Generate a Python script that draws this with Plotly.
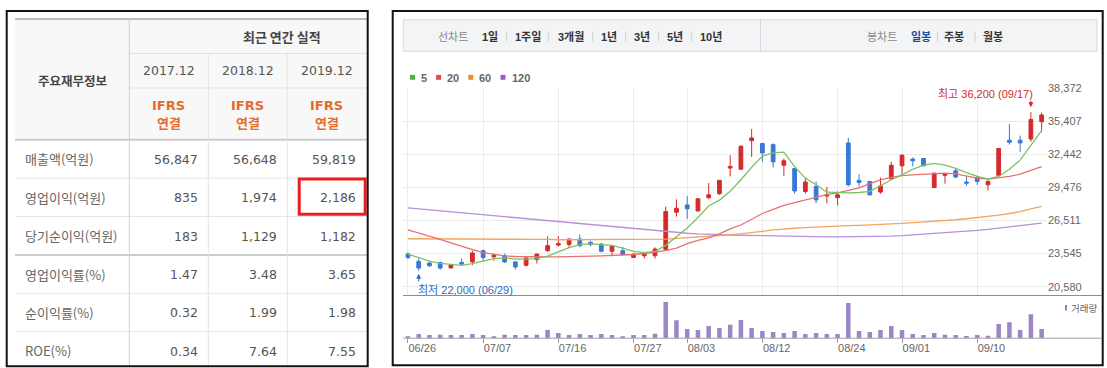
import plotly.graph_objects as go

W, H = 1107, 368

# ---------------- financial table data ----------------
corner_title = "주요재무정보"
period_title = "최근 연간 실적"
fiscal_years = ["2017.12", "2018.12", "2019.12"]
basis_top = ["IFRS", "IFRS", "IFRS"]
basis_bottom = ["연결", "연결", "연결"]
row_labels = ["매출액(억원)", "영업이익(억원)", "당기순이익(억원)",
              "영업이익률(%)", "순이익률(%)", "ROE(%)"]
fy2017 = [56847, 835, 183, 1.47, 0.32, 0.34]
fy2018 = [56648, 1974, 1129, 3.48, 1.99, 7.64]
fy2019 = [59819, 2186, 1182, 3.65, 1.98, 7.55]
highlight_row = "영업이익(억원)"
highlight_year = "2019.12"

# ---------------- stock chart data ----------------
trade_dates = ["2020-06-26", "2020-06-29", "2020-06-30", "2020-07-01", "2020-07-02", "2020-07-03",
               "2020-07-06", "2020-07-07", "2020-07-08", "2020-07-09", "2020-07-10", "2020-07-13",
               "2020-07-14", "2020-07-15", "2020-07-16", "2020-07-17", "2020-07-20", "2020-07-21",
               "2020-07-22", "2020-07-23", "2020-07-24", "2020-07-27", "2020-07-28", "2020-07-29",
               "2020-07-30", "2020-07-31", "2020-08-03", "2020-08-04", "2020-08-05", "2020-08-06",
               "2020-08-07", "2020-08-10", "2020-08-11", "2020-08-12", "2020-08-13", "2020-08-14",
               "2020-08-18", "2020-08-19", "2020-08-20", "2020-08-21", "2020-08-24", "2020-08-25",
               "2020-08-26", "2020-08-27", "2020-08-28", "2020-08-31", "2020-09-01", "2020-09-02",
               "2020-09-03", "2020-09-04", "2020-09-07", "2020-09-08", "2020-09-09", "2020-09-10",
               "2020-09-11", "2020-09-14", "2020-09-15", "2020-09-16", "2020-09-17", "2020-09-18"]
open_prices = [23500, 22850, 22700, 22750, 22250, 22750, 22800, 23800, 23250, 23350,
               22800, 22500, 23000, 23800, 24300, 24350, 24850, 24550, 24400, 23750,
               23800, 23200, 23350, 23350, 23900, 27250, 27900, 27350, 28550, 28900,
               31200, 31100, 33650, 33400, 33300, 31450, 31150, 29100, 29550, 28700,
               28550, 33450, 30100, 30000, 29050, 30250, 31400, 32000, 32050, 29450,
               30550, 30950, 29950, 30350, 29700, 30550, 33700, 33700, 33800, 35350]
high_prices = [23650, 23100, 22800, 22800, 22550, 23100, 23800, 23900, 23550, 23550,
               22850, 23250, 23550, 25100, 25100, 24900, 25250, 24700, 24500, 24300,
               24150, 23550, 23700, 24100, 27750, 28400, 28700, 28450, 29850, 30100,
               32350, 33250, 34700, 33450, 33400, 32050, 31150, 30300, 30000, 29500,
               29100, 33900, 30650, 30000, 30350, 31750, 32450, 32150, 32100, 30750,
               30750, 31200, 30450, 30500, 30150, 33000, 35150, 34100, 36200, 36150]
low_prices = [23050, 22000, 22350, 22100, 22250, 22450, 22500, 22900, 22900, 22700,
              22100, 22400, 22650, 23700, 24200, 24100, 24100, 24200, 23650, 23300,
              23400, 23150, 23100, 23100, 23900, 26850, 26650, 27350, 28400, 28800,
              30450, 31050, 32200, 31750, 31250, 30500, 28900, 28900, 28050, 28050,
              27850, 29550, 29550, 28750, 28900, 30150, 30600, 31350, 31350, 29450,
              29800, 30300, 29600, 29700, 29200, 30450, 33300, 32650, 33550, 34400]
close_prices = [23200, 22250, 22450, 22250, 22550, 22600, 23600, 23200, 23400, 22800,
                22350, 23150, 23500, 24250, 24450, 24850, 24250, 24350, 23750, 24200,
                23450, 23500, 23550, 23950, 27300, 27600, 27550, 28450, 28800, 30100,
                31350, 33150, 33900, 32550, 31750, 31850, 29150, 29950, 28350, 28800,
                28800, 29700, 29900, 28800, 29600, 31450, 32350, 31850, 31400, 30750,
                30700, 30400, 29850, 30000, 30000, 32950, 33500, 33450, 35550, 35950]
volumes = [62000, 131000, 98000, 102000, 99000, 101000, 128000, 97000, 61000, 103000,
           100000, 99000, 102000, 251000, 158000, 97000, 131000, 100000, 129000, 98000,
           63000, 101000, 99000, 132000, 1102000, 548000, 281000, 247000, 372000, 309000,
           408000, 551000, 312000, 221000, 188000, 161000, 219000, 129000, 162000, 131000,
           128000, 1071000, 222000, 191000, 248000, 369000, 251000, 131000, 99000, 158000,
           102000, 97000, 69000, 101000, 71000, 431000, 489000, 252000, 728000, 283000]
ma5 = [23490, 23160, 22870, 22660, 22550, 22490, 22640, 22900, 23100, 23160,
       23050, 23050, 23100, 23310, 23690, 24070, 24340, 24430, 24340, 24280,
       24040, 23750, 23630, 23750, 24280, 25100, 25840, 26780, 27800, 28330,
       29120, 30150, 31270, 32270, 32560, 32620, 31330, 30300, 29710, 29040,
       28980, 28980, 29010, 29120, 29620, 30150, 30590, 31090, 31470, 31620,
       31470, 31180, 30800, 30450, 30240, 30450, 31090, 31910, 33230, 34560]
ma20 = [25660, 25400, 25100, 24810, 24510, 24190, 23900, 23630, 23460, 23340,
        23280, 23250, 23250, 23250, 23250, 23250, 23280, 23310, 23340, 23370,
        23400, 23460, 23550, 23660, 23810, 24040, 24430, 24720, 24950, 25310,
        25750, 26100, 26630, 27130, 27510, 27860, 28100, 28330, 28540, 28830,
        28980, 29180, 29420, 29800, 30150, 30360, 30530, 30590, 30650, 30710,
        30740, 30680, 30500, 30300, 30210, 30300, 30450, 30650, 30970, 31330]
ma60 = [24870, 24870, 24870, 24870, 24870, 24870, 24840, 24840, 24840, 24840,
        24840, 24810, 24810, 24810, 24780, 24780, 24780, 24780, 24780, 24780,
        24780, 24780, 24780, 24810, 24840, 24900, 24980, 25040, 25100, 25160,
        25220, 25310, 25420, 25540, 25660, 25750, 25810, 25860, 25920, 25980,
        26010, 26040, 26070, 26100, 26160, 26220, 26250, 26310, 26360, 26420,
        26480, 26570, 26660, 26750, 26860, 26980, 27130, 27300, 27540, 27770]
ma120 = [27630, 27540, 27450, 27360, 27270, 27185, 27100, 27010, 26920, 26830,
         26745, 26660, 26570, 26480, 26390, 26305, 26215, 26130, 26040, 25950,
         25865, 25775, 25690, 25600, 25510, 25425, 25365, 25305, 25250, 25225,
         25205, 25185, 25160, 25130, 25100, 25075, 25060, 25050, 25040, 25040,
         25040, 25045, 25055, 25065, 25080, 25105, 25150, 25210, 25270, 25330,
         25395, 25460, 25540, 25625, 25715, 25815, 25920, 26035, 26155, 26275]
ma_labels = ["5", "20", "60", "120"]
price_ticks = [20580, 23545, 26511, 29476, 32442, 35407, 38372]
date_ticks = ["2020-06-26", "2020-07-07", "2020-07-16", "2020-07-27", "2020-08-03",
              "2020-08-12", "2020-08-24", "2020-09-01", "2020-09-10"]
line_chart_title = "선차트"
line_chart_periods = ["1일", "1주일", "3개월", "1년", "3년", "5년", "10년"]
candle_chart_title = "봉차트"
candle_chart_periods = ["일봉", "주봉", "월봉"]
active_period = "일봉"
volume_label = "거래량"

# ---------------- styles ----------------
KR = "Noto Sans CJK KR"
NUM = "DejaVu Sans"
AX = "Liberation Sans, Noto Sans CJK KR"
RED = "#d62a2a"
BLUE = "#3a78d6"
MA_LINE_COLORS = ["#7cc262", "#e8716f", "#f3a560", "#b890dc"]
MA_KEY_COLORS = ["#4fb34a", "#e04a4a", "#f08a24", "#9b5ccb"]
VOL_COLOR = "#9b86c8"

def px(x):
    return x / W

def py(y):
    return 1 - y / H

shapes = []
annotations = []

def line(x0, y0, x1, y1, color, width=1):
    shapes.append(dict(type="line", xref="paper", yref="paper", x0=px(x0), y0=py(y0),
                       x1=px(x1), y1=py(y1), line=dict(color=color, width=width)))

def rect(x0, y0, x1, y1, fill="rgba(0,0,0,0)", color=None, width=1):
    shapes.append(dict(type="rect", xref="paper", yref="paper", x0=px(x0), y0=py(y0),
                       x1=px(x1), y1=py(y1), fillcolor=fill, layer="below",
                       line=dict(color=color or "rgba(0,0,0,0)", width=width if color else 0)))

def text(x, y, s, size, color, family=KR, xanchor="center", bold=False):
    annotations.append(dict(xref="paper", yref="paper", x=px(x), y=py(y),
                            text=f"<b>{s}</b>" if bold else s, showarrow=False,
                            xanchor=xanchor, yanchor="middle",
                            font=dict(family=family, size=size, color=color)))

# ================= LEFT PANEL: financial table =================
t_left, t_right, t_top = 15, 367, 13.3
label_right = 129.3
col_w = 79
hdr_rows = [13.3, 48.3, 83.3, 136]
row_h = 39
body_top = hdr_rows[-1]
n_rows = len(row_labels)
t_bottom = 366

rect(t_left, t_top, t_right, body_top, fill="#f8f8f8")
line(t_left, t_top, t_right, t_top, "#bdbdbd", 2)
line(label_right, hdr_rows[1], t_right, hdr_rows[1], "#e2e2e2", 1)
line(label_right, hdr_rows[2], t_right, hdr_rows[2], "#e2e2e2", 1)
line(t_left, body_top, t_right, body_top, "#cccccc", 2)
for i in range(1, n_rows):
    yy = body_top + i * row_h
    if i == 3:
        line(t_left, yy, t_right, yy, "#cccccc", 2)
    else:
        line(t_left, yy, t_right, yy, "#e6e6e6", 1)
line(label_right, t_top, label_right, t_bottom, "#d0d0d0", 1)
for j in range(1, len(fiscal_years)):
    xx = label_right + j * col_w
    line(xx, hdr_rows[1], xx, t_bottom, "#e4e4e4", 1)

text(72.7, 76, corner_title, 12.5, "#444", bold=True)
text(281.7, 30.7, period_title, 13, "#444", bold=True)
for j, yr in enumerate(fiscal_years):
    cx = label_right + (j + 0.5) * col_w
    text(cx + 0.5, 65.5, yr, 12.5, "#555", family=NUM)
    text(cx, 101, basis_top[j], 13, "#e46c2a", family="DejaVu Sans, " + KR, bold=True)
    text(cx, 118.5, basis_bottom[j], 13, "#e46c2a", family=KR, bold=True)

columns = [fy2017, fy2018, fy2019]
for i, lab in enumerate(row_labels):
    cy = body_top + (i + 0.5) * row_h
    text(22.7, cy, lab, 13, "#666", family=KR, xanchor="left")
    for j, col in enumerate(columns):
        v = col[i]
        s = f"{v:,}" if isinstance(v, int) else f"{v:.2f}"
        rx = label_right + (j + 1) * col_w - 8.3
        text(rx, cy + 0.5, s, 12.5, "#555", family=NUM, xanchor="right")

hi = row_labels.index(highlight_row)
hj = fiscal_years.index(highlight_year)
hx0 = label_right + hj * col_w + 11.9
hx1 = label_right + (hj + 1) * col_w - 1.1
hy0 = body_top + hi * row_h + 0.8
hy1 = body_top + (hi + 1) * row_h - 2.2
shapes.append(dict(type="rect", xref="paper", yref="paper", x0=px(hx0), x1=px(hx1),
                   y0=py(hy0), y1=py(hy1), line=dict(color="#ee1c1c", width=3),
                   fillcolor="rgba(0,0,0,0)", layer="above"))

shapes.append(dict(type="rect", xref="paper", yref="paper", x0=px(6.7), x1=px(367.7),
                   y0=py(5), y1=py(366.3), line=dict(color="#111", width=2),
                   fillcolor="rgba(0,0,0,0)", layer="above"))

# ================= RIGHT PANEL: stock chart =================
shapes.append(dict(type="rect", xref="paper", yref="paper", x0=px(392.7), x1=px(1102.7),
                   y0=py(5), y1=py(365.3), line=dict(color="#111", width=2),
                   fillcolor="rgba(0,0,0,0)", layer="above"))

rect(403.3, 14, 1097, 46, fill="#f3f4f6", color="#d6d8dc", width=1)
line(760.5, 14, 760.5, 46, "#d6d8dc", 1)
tb_y = 30.5
text(452.8, tb_y, line_chart_title, 11, "#8a8a8a")
left_centers = [489.5, 527.5, 570.7, 609.2, 642.2, 675.2, 711.2]
left_seps = [506.7, 548.3, 592.7, 625.7, 658.7, 691.7]
for lab, cx in zip(line_chart_periods, left_centers):
    text(cx, tb_y, lab, 11, "#333", family=AX, bold=True)
for sx in left_seps:
    line(sx, 26, sx, 36, "#d0d0d0", 1)
text(882, tb_y, candle_chart_title, 11, "#8a8a8a")
right_centers = [921, 954, 993.3]
right_seps = [937.5, 975]
for lab, cx in zip(candle_chart_periods, right_centers):
    col = "#1f4ea3" if lab == active_period else "#333"
    text(cx, tb_y, lab, 11, col, bold=True)
for sx in right_seps:
    line(sx, 26, sx, 36, "#d0d0d0", 1)

kx = 410
for lab, kc in zip(ma_labels, MA_KEY_COLORS):
    rect(kx, 70, kx + 5, 75, fill=kc)
    text(kx + 9, 72.7, lab, 11, "#666", family="Liberation Sans", xanchor="left", bold=True)
    kx += 9 + 6.1 * len(lab) + 11

line(403, 294.3, 1102, 294.3, "#8c8c8c", 1)
line(403, 337.7, 1102, 337.7, "#a0a0a0", 1)

rect(1065, 304, 1067, 309.5, fill="#8e7cc3")
text(1069, 307, volume_label, 9.5, "#666", xanchor="left")

fig = go.Figure()
for vals, lc, nm in zip([ma120, ma60, ma20, ma5], MA_LINE_COLORS[::-1], ma_labels[::-1]):
    fig.add_trace(go.Scatter(x=trade_dates, y=vals, mode="lines", name=nm,
                             line=dict(color=lc, width=1.3), hoverinfo="skip",
                             xaxis="x", yaxis="y"))
fig.add_trace(go.Candlestick(
    x=trade_dates, open=open_prices, high=high_prices, low=low_prices, close=close_prices,
    increasing=dict(line=dict(color=RED, width=1), fillcolor=RED),
    decreasing=dict(line=dict(color=BLUE, width=1), fillcolor=BLUE),
    whiskerwidth=0, xaxis="x", yaxis="y", hoverinfo="skip"))
fig.add_trace(go.Bar(x=trade_dates, y=volumes, marker=dict(color=VOL_COLOR, line=dict(width=0)),
                     width=0.42, xaxis="x2", yaxis="y2", hoverinfo="skip"))

imax = high_prices.index(max(high_prices))
imin = low_prices.index(min(low_prices))
def mmdd(d):
    return d[5:7] + "/" + d[8:10]
annotations.append(dict(xref="x", yref="y", x=trade_dates[imax], y=high_prices[imax],
                        text=f"최고 {high_prices[imax]:,} ({mmdd(trade_dates[imax])})",
                        showarrow=False, xanchor="right", yanchor="middle", xshift=4.5, yshift=18.7,
                        font=dict(family=AX, size=11, color="#d42a2a")))
annotations.append(dict(xref="x", yref="y", x=trade_dates[imax], y=high_prices[imax], text="",
                        showarrow=True, ax=0, ay=-13, standoff=5, arrowhead=2, arrowsize=0.9,
                        arrowwidth=1.1, arrowcolor="#d42a2a"))
annotations.append(dict(xref="x", yref="y", x=trade_dates[imin], y=low_prices[imin],
                        text=f"최저 {low_prices[imin]:,} ({mmdd(trade_dates[imin])})",
                        showarrow=False, xanchor="left", yanchor="middle", xshift=-3, yshift=-19.5,
                        font=dict(family=AX, size=11, color="#2d6cbf")))
annotations.append(dict(xref="x", yref="y", x=trade_dates[imin], y=low_prices[imin], text="",
                        showarrow=True, ax=0, ay=12, standoff=3, arrowhead=2, arrowsize=0.9,
                        arrowwidth=1.1, arrowcolor="#2d6cbf"))

x_dom = [px(402.6), px(1047)]
xr = [-0.5, len(trade_dates) - 0.5]
fig.update_layout(
    width=W, height=H, margin=dict(l=0, r=0, t=0, b=0),
    paper_bgcolor="white", plot_bgcolor="rgba(0,0,0,0)", showlegend=False,
    boxgap=0.5, boxgroupgap=0.3,
    xaxis=dict(domain=x_dom, type="category", range=xr, tickvals=date_ticks,
               showticklabels=False, showgrid=True, gridcolor="#ebebeb", gridwidth=1,
               zeroline=False, showline=False, ticks="", anchor="y",
               rangeslider=dict(visible=False)),
    yaxis=dict(domain=[py(294.3), py(83.3)], range=[19790, 38372], side="right",
               tickvals=price_ticks, ticktext=[f"{v:,}" for v in price_ticks],
               tickfont=dict(family="Liberation Sans", size=11, color="#666"),
               showgrid=True, gridcolor="#ebebeb", gridwidth=1, zeroline=False,
               ticks="", anchor="x", showline=False),
    xaxis2=dict(domain=x_dom, type="category", range=xr, anchor="y2",
                tickvals=date_ticks, ticktext=[mmdd(d) for d in date_ticks],
                ticks="outside", ticklen=4, tickcolor="#999", tickwidth=1,
                ticklabelposition="outside right",
                tickfont=dict(family="Liberation Sans", size=11, color="#666"),
                showgrid=False, zeroline=False, showline=False),
    yaxis2=dict(domain=[py(337.7), py(297)], range=[0, 1220000], showticklabels=False,
                showgrid=False, zeroline=False, ticks="", anchor="x2"),
    shapes=shapes, annotations=annotations,
)

fig.write_html("out.html", config={"displayModeBar": False, "staticPlot": True},
               post_script="document.body.style.margin='0px';document.body.style.overflow='hidden';")
